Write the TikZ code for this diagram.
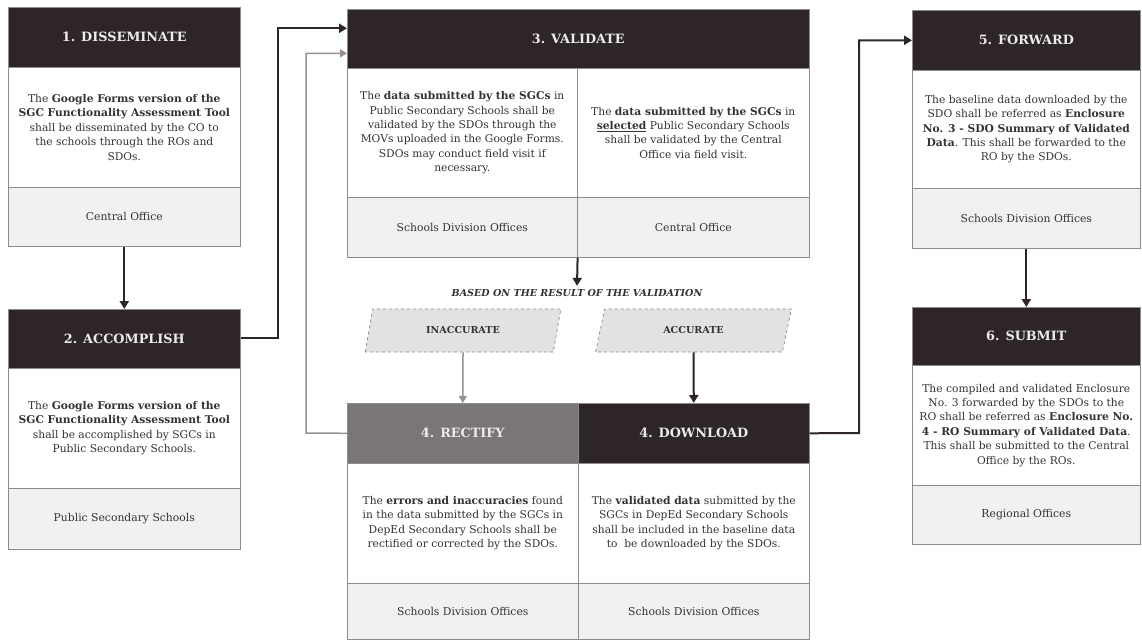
\documentclass[tikz,border=0pt]{standalone}
\usepackage{fontspec}
\setmainfont{DejaVu Serif}
\usetikzlibrary{shapes.geometric,arrows.meta}
\definecolor{hdr}{HTML}{2E2526}
\definecolor{hdrgray}{HTML}{7A7676}
\definecolor{foot}{HTML}{F1F1F1}
\definecolor{bord}{HTML}{8C8C8C}
\definecolor{txt}{HTML}{333333}
\definecolor{para}{HTML}{E2E2E2}
\tikzset{
  hdrbox/.style={draw=bord, line width=0.6pt, fill=hdr, text=white!92!black, font=\fontsize{12.8}{14}\selectfont\bfseries, inner sep=0pt, anchor=north west},
  bodybox/.style={draw=bord, line width=0.6pt, fill=white, text=txt, align=center, font=\fontsize{10.7}{14.4}\selectfont, inner sep=0pt, anchor=north west},
  footbox/.style={draw=bord, line width=0.6pt, fill=foot, text=txt, align=center, font=\fontsize{10.8}{12}\selectfont, inner sep=0pt, anchor=north west},
  paral/.style={trapezium, trapezium left angle=67, trapezium right angle=113, trapezium stretches=true, draw=bord, dashed, line width=0.7pt, fill=para, text=txt, font=\fontsize{9.6}{11}\selectfont\bfseries, minimum width=196pt, minimum height=43pt, inner sep=0pt},
  flow/.style={draw=hdr, line width=2pt, -{Triangle[width=9pt,length=8pt]}},
  flowgray/.style={draw=hdrgray!80, line width=1.5pt, -{Triangle[width=8pt,length=7pt]}},
}
\begin{document}
\begin{tikzpicture}[x=1pt,y=-1pt]
\useasboundingbox[fill=white] (0,0) rectangle (1142,642);

% Box 1
\node[hdrbox, minimum width=232pt, minimum height=60pt] (h1) at (8,7) {1. DISSEMINATE};
\node[bodybox, minimum width=232pt, minimum height=120pt] (b1) at (8,67) {The \textbf{Google Forms version of the}\\\textbf{SGC Functionality Assessment Tool}\\shall be disseminated by the CO to\\the schools through the ROs and\\SDOs.};
\node[footbox, minimum width=232pt, minimum height=59pt] (f1) at (8,187) {Central Office};

% Box 2
\node[hdrbox, minimum width=232pt, minimum height=59pt] (h2) at (8,309) {2. ACCOMPLISH};
\node[bodybox, minimum width=232pt, minimum height=120pt] (b2) at (8,368) {The \textbf{Google Forms version of the}\\\textbf{SGC Functionality Assessment Tool}\\shall be accomplished by SGCs in\\Public Secondary Schools.};
\node[footbox, minimum width=232pt, minimum height=61pt] (f2) at (8,488) {Public Secondary Schools};

% Box 3
\node[hdrbox, minimum width=462pt, minimum height=59pt] (h3) at (347,9) {3. VALIDATE};
\node[bodybox, minimum width=230pt, minimum height=129pt] (b3l) at (347,68) {The \textbf{data submitted by the SGCs} in\\Public Secondary Schools shall be\\validated by the SDOs through the\\MOVs uploaded in the Google Forms.\\SDOs may conduct field visit if\\necessary.};
\node[bodybox, minimum width=232pt, minimum height=129pt] (b3r) at (577,68) {The \textbf{data submitted by the SGCs} in\\\textbf{\underline{selected}} Public Secondary Schools\\shall be validated by the Central\\Office via field visit.};
\node[footbox, minimum width=230pt, minimum height=60pt] (f3l) at (347,197) {Schools Division Offices};
\node[footbox, minimum width=232pt, minimum height=60pt] (f3r) at (577,197) {Central Office};

% Based on
\node[text=txt, font=\fontsize{9.6}{11}\selectfont\bfseries\itshape, anchor=center] (based) at (577,293) {BASED ON THE RESULT OF THE VALIDATION};

% Parallelograms
\node[paral] (inacc) at (463,330.5) {INACCURATE};
\node[paral] (acc) at (693.5,330.5) {ACCURATE};

% Box 4
\node[hdrbox, fill=hdrgray, minimum width=231pt, minimum height=60pt] (h4r) at (347,403) {4. RECTIFY};
\node[hdrbox, minimum width=231pt, minimum height=60pt] (h4d) at (578,403) {4. DOWNLOAD};
\node[bodybox, minimum width=231pt, minimum height=120pt] (b4r) at (347,463) {The \textbf{errors and inaccuracies} found\\in the data submitted by the SGCs in\\DepEd Secondary Schools shall be\\rectified or corrected by the SDOs.};
\node[bodybox, minimum width=231pt, minimum height=120pt] (b4d) at (578,463) {The \textbf{validated data} submitted by the\\SGCs in DepEd Secondary Schools\\shall be included in the baseline data\\to\ \ be downloaded by the SDOs.};
\node[footbox, minimum width=231pt, minimum height=56pt] (f4r) at (347,583) {Schools Division Offices};
\node[footbox, minimum width=231pt, minimum height=56pt] (f4d) at (578,583) {Schools Division Offices};

% Box 5
\node[hdrbox, minimum width=228pt, minimum height=60pt] (h5) at (912,10) {5. FORWARD};
\node[bodybox, minimum width=228pt, minimum height=118pt] (b5) at (912,70) {The baseline data downloaded by the\\SDO shall be referred as \textbf{Enclosure}\\\textbf{No. 3 - SDO Summary of Validated}\\\textbf{Data}. This shall be forwarded to the\\RO by the SDOs.};
\node[footbox, minimum width=228pt, minimum height=60pt] (f5) at (912,188) {Schools Division Offices};

% Box 6
\node[hdrbox, minimum width=228pt, minimum height=58pt] (h6) at (912,307) {6. SUBMIT};
\node[bodybox, minimum width=228pt, minimum height=120pt] (b6) at (912,365) {The compiled and validated Enclosure\\No. 3 forwarded by the SDOs to the\\RO shall be referred as \textbf{Enclosure No.}\\\textbf{4 - RO Summary of Validated Data}.\\This shall be submitted to the Central\\Office by the ROs.};
\node[footbox, minimum width=228pt, minimum height=59pt] (f6) at (912,485) {Regional Offices};

% Connectors
\draw[flow] (f1.south) -- (h2.north);
\coordinate (k12) at (278,338);
\draw[flow] (h2.east |- k12) -- (k12) |- ([yshift=10.5pt]h3.west);
\draw[flow] (f3l.south east) -- (based.north);
\draw[flowgray] (inacc.south) -- (h4r.north);
\draw[flow] (acc.south) -- (h4d.north);
\coordinate (kr) at (306,433);
\draw[flowgray] (h4r.west) -- (kr) |- ([yshift=-14.5pt]h3.west);
\coordinate (kd) at (859,433);
\draw[flow] (h4d.east) -- (kd) |- (h5.west);
\draw[flow] (f5.south) -- (h6.north);
\end{tikzpicture}
\end{document}
